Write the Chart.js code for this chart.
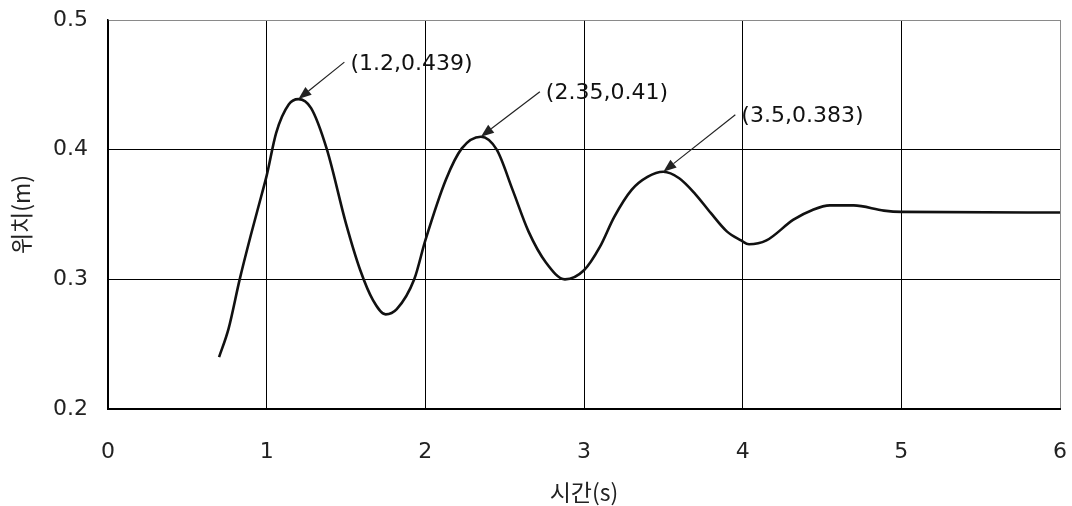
<!DOCTYPE html>
<html>
<head>
<meta charset="utf-8">
<script src="https://cdn.jsdelivr.net/npm/chart.js@4.4.1/dist/chart.umd.min.js"></script>
<style>
  html, body { margin: 0; padding: 0; background: #fff; }
  #wrap { width: 1072px; height: 506px; }
</style>
</head>
<body>
<div id="wrap"><canvas id="c" width="1072" height="506"></canvas></div>
<script>
// Damped response: time (s) vs position (m)
const timeS = [0.70, 0.76, 0.83, 0.90, 0.97, 1.00, 1.06, 1.14, 1.20, 1.28, 1.38, 1.50, 1.59, 1.67, 1.75, 1.82, 1.93,
  2.00, 2.13, 2.23, 2.35, 2.45, 2.55, 2.65, 2.76, 2.88, 3.00, 3.10, 3.19, 3.30, 3.40, 3.50, 3.60, 3.70, 3.80,
  3.90, 3.99, 4.04, 4.15, 4.32, 4.44, 4.55, 4.70, 4.89, 5.00, 6.00];
const positionM = [0.240, 0.262, 0.300, 0.334, 0.366, 0.380, 0.413, 0.435, 0.439, 0.432, 0.400, 0.343, 0.307, 0.284, 0.273, 0.277, 0.300,
  0.330, 0.377, 0.401, 0.410, 0.400, 0.369, 0.337, 0.313, 0.300, 0.307, 0.325, 0.348, 0.369, 0.379, 0.383, 0.378, 0.366, 0.351,
  0.337, 0.330, 0.327, 0.330, 0.346, 0.3535, 0.357, 0.357, 0.353, 0.352, 0.3515];

// Labelled peaks
const peakX = [1.2, 2.35, 3.5];
const peakY = [0.439, 0.41, 0.383];

// Axis tick values
const xTickValues = [0, 1, 2, 3, 4, 5, 6];
const yTickValues = [0.2, 0.3, 0.4, 0.5];

const points = timeS.map((t, i) => ({ x: t, y: positionM[i] }));

const tickFont = { family: "'DejaVu Sans', 'Noto Sans CJK KR', sans-serif", size: 22 };
const titleFont = { family: "'Noto Sans CJK KR', 'DejaVu Sans', sans-serif", size: 23 };

// Arrow + coordinate label at each peak
const peakAnnotations = {
  id: 'peakAnnotations',
  afterDatasetsDraw(chart, args, opts) {
    const { ctx, scales: { x, y } } = chart;
    ctx.save();
    peakX.forEach((px, i) => {
      const tipX = x.getPixelForValue(px);
      const tipY = y.getPixelForValue(peakY[i]);
      const [dx, dy] = opts.offsets[i];
      const tailX = tipX + dx, tailY = tipY + dy;
      const ang = Math.atan2(tipY - tailY, tipX - tailX);
      const headLen = 13, headW = 5;
      const baseX = tipX - headLen * Math.cos(ang);
      const baseY = tipY - headLen * Math.sin(ang);
      ctx.strokeStyle = '#222';
      ctx.lineWidth = 1.2;
      ctx.beginPath();
      ctx.moveTo(tailX, tailY);
      ctx.lineTo(baseX, baseY);
      ctx.stroke();
      ctx.fillStyle = '#222';
      ctx.beginPath();
      ctx.moveTo(tipX, tipY);
      ctx.lineTo(baseX + headW * Math.sin(ang), baseY - headW * Math.cos(ang));
      ctx.lineTo(baseX - headW * Math.sin(ang), baseY + headW * Math.cos(ang));
      ctx.closePath();
      ctx.fill();
      ctx.font = `${tickFont.size}px ${tickFont.family}`;
      ctx.fillStyle = '#111';
      ctx.textAlign = 'left';
      ctx.textBaseline = 'middle';
      ctx.fillText(`(${px},${peakY[i]})`, tailX + 6, tailY + 2);
    });
    ctx.restore();
  }
};

new Chart(document.getElementById('c'), {
  type: 'scatter',
  data: {
    datasets: [{
      data: points,
      showLine: true,
      borderColor: '#111',
      borderWidth: 2.6,
      pointRadius: 0,
      cubicInterpolationMode: 'monotone',
      fill: false
    }]
  },
  options: {
    responsive: false,
    animation: false,
    layout: { padding: { left: 0, right: 12, top: 20, bottom: 0 } },
    plugins: {
      legend: { display: false },
      tooltip: { enabled: false },
      peakAnnotations: { offsets: [[46, -37], [59, -45], [72, -57]] }
    },
    scales: {
      x: {
        type: 'linear',
        min: 0, max: 6,
        afterBuildTicks: s => { s.ticks = xTickValues.map(v => ({ value: v })); },
        afterFit: s => { s.height = 97; s.paddingLeft = 0; s.paddingRight = 0; },
        grid: {
          drawTicks: false,
          lineWidth: 1,
          color: c => (c.tick && c.tick.value === 6 ? '#8a8a8a' : '#000')
        },
        border: { color: '#000', width: 2 },
        ticks: { color: '#222', font: tickFont, padding: 30, maxRotation: 0 },
        title: { display: true, text: '시간(s)', color: '#222', font: titleFont, padding: { top: 0, bottom: 0 } }
      },
      y: {
        type: 'linear',
        min: 0.2, max: 0.5,
        afterBuildTicks: s => { s.ticks = yTickValues.map(v => ({ value: v })); },
        afterFit: s => { s.width = 108; s.paddingTop = 0; s.paddingBottom = 0; },
        grid: {
          drawTicks: false,
          lineWidth: 1,
          color: c => (c.tick && Math.abs(c.tick.value - 0.5) < 1e-9 ? '#8a8a8a' : '#000')
        },
        border: { color: '#000', width: 1.5 },
        ticks: { color: '#222', font: tickFont, padding: 20, callback: v => v.toFixed(1) },
        title: { display: true, text: '위치(m)', color: '#222', font: titleFont, padding: { top: 7, bottom: 0 } }
      }
    }
  },
  plugins: [peakAnnotations]
});
</script>
</body>
</html>
